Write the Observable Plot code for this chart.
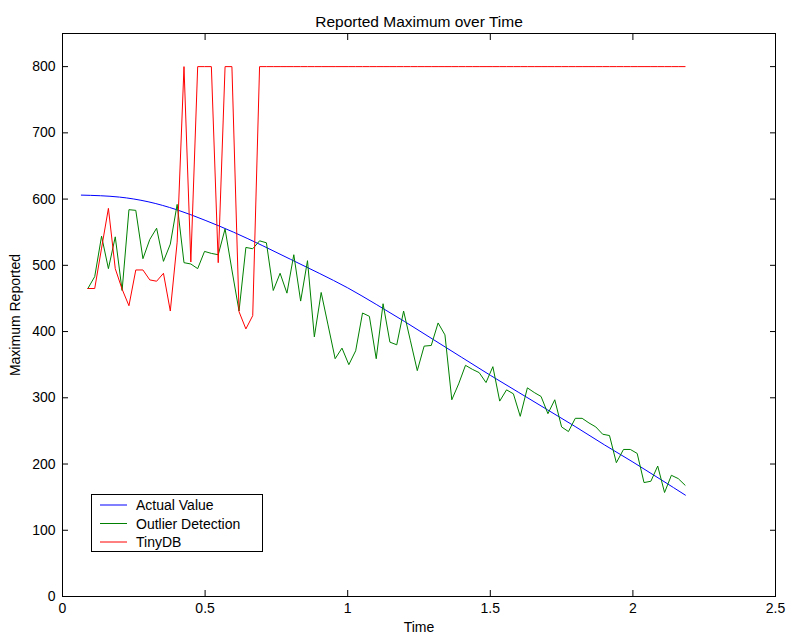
<!DOCTYPE html>
<html>
<head>
<meta charset="utf-8">
<script src="https://cdn.jsdelivr.net/npm/d3@7"></script>
<script src="https://cdn.jsdelivr.net/npm/@observablehq/plot@0.6"></script>
<style>
  html, body { margin: 0; padding: 0; background: #fff; }
  #chart { width: 786px; height: 635px; }
</style>
</head>
<body>
<div id="chart"></div>
<script>
const titleText = "Reported Maximum over Time";
const xLabel = "Time";
const yLabel = "Maximum Reported";
const seriesNames = ["Actual Value", "Outlier Detection", "TinyDB"];
const seriesColors = ["#0000ff", "#008000", "#ff0000"];
const xTicks = [0, 0.5, 1, 1.5, 2, 2.5];
const yTicks = [0, 100, 200, 300, 400, 500, 600, 700, 800];

// sample times shared by Outlier Detection and TinyDB
const sampleTime = [
  0.089, 0.113, 0.137, 0.161, 0.185, 0.209, 0.233, 0.257, 0.282, 0.306,
  0.330, 0.354, 0.378, 0.402, 0.426, 0.450, 0.474, 0.498, 0.522, 0.546,
  0.570, 0.594, 0.619, 0.643, 0.667, 0.691, 0.715, 0.739, 0.763, 0.787,
  0.811, 0.835, 0.859, 0.883, 0.907, 0.931, 0.956, 0.980, 1.004, 1.028,
  1.052, 1.076, 1.100, 1.124, 1.148, 1.172, 1.196, 1.220, 1.244, 1.268,
  1.293, 1.317, 1.341, 1.365, 1.389, 1.413, 1.437, 1.461, 1.485, 1.509,
  1.533, 1.557, 1.581, 1.605, 1.630, 1.654, 1.678, 1.702, 1.726, 1.750,
  1.774, 1.798, 1.822, 1.846, 1.870, 1.894, 1.918, 1.942, 1.967, 1.991,
  2.015, 2.039, 2.063, 2.087, 2.111, 2.135, 2.159, 2.183
];

const outlierValue = [
  465, 483, 544, 495, 543, 462, 584, 583, 510, 539,
  556, 506, 532, 592, 504, 502, 495, 521, 518, 516,
  555, 493, 431, 527, 525, 537, 534, 462, 488, 458,
  516, 446, 507, 392, 459, 410, 359, 375, 350, 371,
  428, 423, 359, 442, 384, 380, 431, 386, 341, 378,
  379, 413, 395, 297, 321, 349, 343, 338, 323, 347,
  295, 312, 306, 272, 315, 308, 302, 276, 297, 256,
  249, 269, 269, 262, 256, 245, 243, 202, 222, 222,
  216, 172, 174, 197, 157, 183, 178, 168
];

const tinydbValue = [
  465, 465, 526, 586, 495, 464, 439, 493, 493, 478,
  476, 488, 431, 535, 800, 505, 800, 800, 800, 504,
  800, 800, 430, 404, 424, 800, 800, 800, 800, 800,
  800, 800, 800, 800, 800, 800, 800, 800, 800, 800,
  800, 800, 800, 800, 800, 800, 800, 800, 800, 800,
  800, 800, 800, 800, 800, 800, 800, 800, 800, 800,
  800, 800, 800, 800, 800, 800, 800, 800, 800, 800,
  800, 800, 800, 800, 800, 800, 800, 800, 800, 800,
  800, 800, 800, 800, 800, 800, 800, 800
];

const actualTime = [0.066, 0.2, 0.3, 0.4, 0.5, 0.6, 0.7, 0.8, 0.9, 1.0, 1.1, 1.2, 1.3, 1.4, 1.5, 1.6, 1.7, 1.8, 1.9, 2.0, 2.1, 2.184];
const actualValue = [606, 603, 596, 584, 568, 550, 530, 509, 488, 466, 441, 415, 388, 361, 334, 308, 282, 256, 229, 203, 176, 153];

const actualData = actualTime.map((t, i) => ({t, v: actualValue[i]}));
const outlierData = sampleTime.map((t, i) => ({t, v: outlierValue[i]}));
const tinyData = sampleTime.map((t, i) => ({t, v: tinydbValue[i]}));

const font = "'Liberation Sans', Arial, Helvetica, sans-serif";

const chart = Plot.plot({
  width: 786,
  height: 635,
  marginLeft: 62,
  marginRight: 11,
  marginTop: 33,
  marginBottom: 39,
  style: {fontFamily: font, fontSize: "14px", color: "#000", background: "#fff", overflow: "visible"},
  x: {domain: [0, 2.5]},
  y: {domain: [0, 850]},
  marks: [
    Plot.line(actualData, {x: "t", y: "v", stroke: seriesColors[0], strokeWidth: 1, curve: "monotone-x"}),
    Plot.line(outlierData, {x: "t", y: "v", stroke: seriesColors[1], strokeWidth: 1}),
    Plot.line(tinyData, {x: "t", y: "v", stroke: seriesColors[2], strokeWidth: 1}),
    Plot.frame({stroke: "#000", strokeWidth: 1}),
    Plot.axisX({anchor: "bottom", ticks: xTicks, tickSize: -6, tickPadding: 13, tickFormat: d => String(d),
      label: xLabel, labelAnchor: "center", labelArrow: "none", labelOffset: 35, fontSize: 14}),
    Plot.axisX({anchor: "top", ticks: xTicks, tickSize: -6, tickFormat: () => "", label: null}),
    Plot.axisY({anchor: "left", ticks: yTicks, tickSize: -6, tickPadding: 13, tickFormat: d => String(d),
      label: yLabel, labelAnchor: "center", labelArrow: "none", labelOffset: 52, fontSize: 14}),
    Plot.axisY({anchor: "right", ticks: yTicks, tickSize: -6, tickFormat: () => "", label: null}),
    Plot.text([titleText], {frameAnchor: "top", dy: -18, text: d => d, fontSize: 15.5})
  ]
});

document.getElementById("chart").appendChild(chart);

// legend inside the plot area (lower-left)
const svg = d3.select(chart.tagName.toLowerCase() === "svg" ? chart : chart.querySelector("svg"));
const lg = svg.append("g").attr("font-family", font).attr("font-size", 14).attr("text-anchor", "start");
lg.append("rect").attr("x", 91.5).attr("y", 494.5).attr("width", 171).attr("height", 57)
  .attr("fill", "#fff").attr("stroke", "#000").attr("stroke-width", 1);
seriesNames.forEach((name, i) => {
  const cy = 505 + i * 18.5;
  lg.append("line").attr("x1", 100).attr("x2", 127).attr("y1", cy).attr("y2", cy)
    .attr("stroke", seriesColors[i]).attr("stroke-width", 1);
  lg.append("text").attr("x", 136).attr("y", cy + 5).attr("fill", "#000")
    .attr("text-anchor", "start").text(name);
});
</script>
</body>
</html>
